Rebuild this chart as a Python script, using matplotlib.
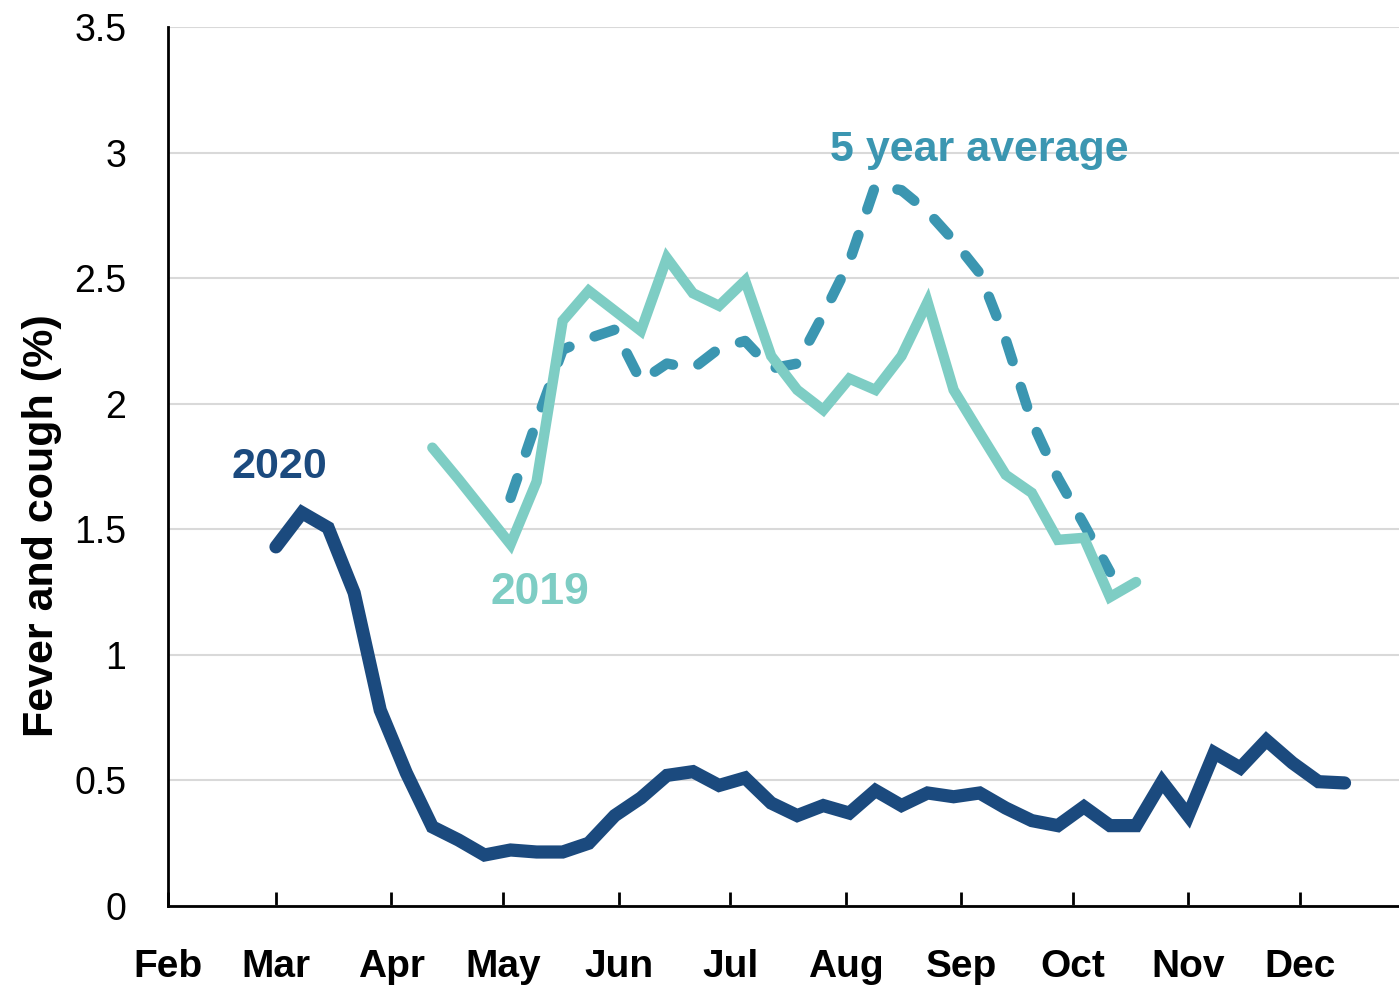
import pandas as pd
import matplotlib.pyplot as plt

# weekly survey points, first week starts 1 Mar 2020
weeks = pd.date_range("2020-03-01", periods=42, freq="7D")

# fever and cough (%), 2020
y2020 = [1.43, 1.566, 1.506, 1.247, 0.78, 0.53, 0.315, 0.263, 0.203, 0.223,
         0.215, 0.215, 0.25, 0.36, 0.43, 0.52, 0.535, 0.48, 0.51, 0.41,
         0.36, 0.40, 0.37, 0.46, 0.40, 0.45, 0.435, 0.45, 0.39, 0.34,
         0.32, 0.395, 0.32, 0.32, 0.495, 0.36, 0.61, 0.55, 0.66, 0.57,
         0.495, 0.49]

# 2019 covers weeks 7..34
y2019 = [1.825, 1.70, 1.57, 1.44, 1.69, 2.33, 2.45, 2.37, 2.29, 2.58,
         2.44, 2.39, 2.49, 2.19, 2.055, 1.975, 2.10, 2.055, 2.19, 2.405,
         2.055, 1.885, 1.717, 1.645, 1.458, 1.466, 1.23, 1.29]

# 5 year average covers weeks 10..33
y5yr = [1.625, 1.93, 2.215, 2.26, 2.295, 2.09, 2.16, 2.14, 2.22, 2.25,
        2.14, 2.16, 2.355, 2.565, 2.87, 2.85, 2.765, 2.65, 2.52, 2.255,
        1.93, 1.705, 1.52, 1.33]

months = ["Feb", "Mar", "Apr", "May", "Jun", "Jul", "Aug", "Sep", "Oct", "Nov", "Dec"]

NAVY = "#1B4A7E"
TEAL = "#7ECDC4"
BLUE = "#3B96B1"
NARROW = ["Liberation Sans Narrow", "Liberation Sans", "DejaVu Sans"]

fig = plt.figure(figsize=(13.99, 9.9), dpi=100)
ax = fig.add_axes([168 / 1399, 84 / 990, 1 - 168 / 1399, 879 / 990])

ax.plot(weeks[9:9 + len(y5yr)], y5yr, color=BLUE, lw=7.5,
        dashes=(2, 2.6), dash_capstyle="round", solid_capstyle="round")
ax.plot(weeks[6:6 + len(y2019)], y2019, color=TEAL, lw=7.5,
        solid_capstyle="round", solid_joinstyle="miter")
ax.plot(weeks, y2020, color=NAVY, lw=9.5,
        solid_capstyle="round", solid_joinstyle="miter")

ax.set_ylim(0, 3.5)
ax.set_xlim(pd.Timestamp("2020-02-01"), pd.Timestamp("2020-12-27 15:00"))
ax.set_yticks([0, 0.5, 1, 1.5, 2, 2.5, 3, 3.5])
ax.set_yticklabels(["0", "0.5", "1", "1.5", "2", "2.5", "3", "3.5"],
                   fontsize=27, family=["Liberation Sans", "DejaVu Sans"])
ticks = pd.date_range("2020-02-01", periods=len(months), freq="MS")
ax.set_xticks(ticks)
ax.set_xticklabels(months, fontsize=28, fontweight="bold", family=NARROW)

ax.grid(axis="y", color="#D9D9D9", lw=1.5)
ax.set_axisbelow(True)
ax.tick_params(axis="y", length=0, pad=30)
ax.tick_params(axis="x", direction="in", length=10, width=2, pad=31)
for s in ["top", "right"]:
    ax.spines[s].set_visible(False)
for s in ["left", "bottom"]:
    ax.spines[s].set_linewidth(2)

ax.set_ylabel("Fever and cough (%)", fontsize=31, fontweight="bold",
              family=NARROW)
ax.yaxis.set_label_coords(-0.086, 0.433)

ax.text(pd.Timestamp("2020-03-02"), 1.75, "2020", color=NAVY, fontsize=31,
        fontweight="bold", family=NARROW, ha="center", va="center")
ax.text(pd.Timestamp("2020-05-11"), 1.25, "2019", color=TEAL, fontsize=32,
        fontweight="bold", family=NARROW, ha="center", va="center")
ax.text(pd.Timestamp("2020-09-06"), 3.01, "5 year average", color=BLUE,
        fontsize=31, fontweight="bold", family=NARROW, ha="center", va="center")

fig.savefig("out.png", dpi=100)
